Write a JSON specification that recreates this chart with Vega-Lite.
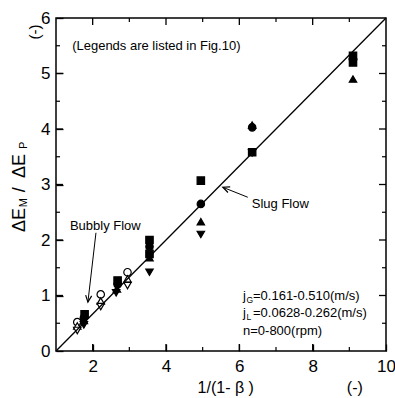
{
  "$schema": "https://vega.github.io/schema/vega-lite/v6.json",
  "width": 330,
  "height": 333,
  "autosize": {"type": "none"},
  "padding": {"left": 56, "top": 18, "right": 9, "bottom": 47},
  "config": {
    "view": {"stroke": "black", "strokeWidth": 1.5},
    "axis": {"domain": false, "grid": false, "tickColor": "black", "labelColor": "black", "labelFont": "Liberation Sans", "labelFontSize": 17, "title": null, "tickWidth": 1.3, "labelFlush": false, "labelOverlap": false}
  },
  "datasets": {
    "pts": [
      {"x": 1.58, "y": 0.52, "s": "s5"}, {"x": 2.22, "y": 1.02, "s": "s5"}, {"x": 2.95, "y": 1.42, "s": "s5"},
      {"x": 1.58, "y": 0.45, "s": "s6"}, {"x": 2.22, "y": 0.9, "s": "s6"}, {"x": 2.95, "y": 1.3, "s": "s6"},
      {"x": 1.58, "y": 0.37, "s": "s7"}, {"x": 2.22, "y": 0.8, "s": "s7"}, {"x": 2.95, "y": 1.18, "s": "s7"},
      {"x": 1.78, "y": 0.66, "s": "s1"}, {"x": 2.68, "y": 1.27, "s": "s1"}, {"x": 3.55, "y": 2.0, "s": "s1"}, {"x": 3.55, "y": 1.75, "s": "s1"}, {"x": 4.95, "y": 3.07, "s": "s1"}, {"x": 6.35, "y": 3.58, "s": "s1"}, {"x": 9.1, "y": 5.32, "s": "s1"}, {"x": 9.1, "y": 5.2, "s": "s1"},
      {"x": 1.76, "y": 0.6, "s": "s2"}, {"x": 2.68, "y": 1.2, "s": "s2"}, {"x": 3.55, "y": 1.88, "s": "s2"}, {"x": 4.95, "y": 2.65, "s": "s2"}, {"x": 6.35, "y": 4.03, "s": "s2"}, {"x": 9.1, "y": 5.25, "s": "s2"},
      {"x": 1.76, "y": 0.55, "s": "s3"}, {"x": 2.66, "y": 1.12, "s": "s3"}, {"x": 3.55, "y": 1.68, "s": "s3"}, {"x": 4.95, "y": 2.33, "s": "s3"}, {"x": 6.35, "y": 4.07, "s": "s3"}, {"x": 9.1, "y": 4.9, "s": "s3"},
      {"x": 1.76, "y": 0.47, "s": "s4"}, {"x": 2.64, "y": 1.05, "s": "s4"}, {"x": 3.55, "y": 1.42, "s": "s4"}, {"x": 4.95, "y": 2.1, "s": "s4"}, {"x": 6.35, "y": 3.57, "s": "s4"}
    ],
    "fitline": [{"x": 1, "y": 0}, {"x": 10, "y": 6}],
    "shafts": [
      {"x": 6.23, "y": 2.77, "x2": 5.55, "y2": 2.95},
      {"x": 2.09, "y": 2.13, "x2": 1.87, "y2": 0.88}
    ],
    "xmaj": [{"v": 2}, {"v": 4}, {"v": 6}, {"v": 8}],
    "xmin": [{"v": 3}, {"v": 5}, {"v": 7}, {"v": 9}],
    "ymaj": [{"v": 1}, {"v": 2}, {"v": 3}, {"v": 4}, {"v": 5}],
    "ymin": [{"v": 0.5}, {"v": 1.5}, {"v": 2.5}, {"v": 3.5}, {"v": 4.5}, {"v": 5.5}],
    "notes": [
      {"x": 1.44, "y": 5.5, "t": "(Legends are listed in Fig.10)"},
      {"x": 1.38, "y": 2.25, "t": "Bubbly Flow"},
      {"x": 6.34, "y": 2.65, "t": "Slug Flow"},
      {"x": 6.1, "y": 1.0, "t": "j"},
      {"x": 6.1, "y": 0.69, "t": "j"},
      {"x": 6.1, "y": 0.36, "t": "n=0-800(rpm)"}
    ],
    "subs": [
      {"x": 6.1, "y": 1.0, "t": "G"},
      {"x": 6.1, "y": 0.69, "t": "L"}
    ],
    "rest": [
      {"x": 6.1, "y": 1.0, "t": "=0.161-0.510(m/s)"},
      {"x": 6.1, "y": 0.69, "t": "=0.0628-0.262(m/s)"}
    ],
    "xtitle": [
      {"x": 5.63, "y": -0.66, "t": "1/(1- β )"},
      {"x": 9.15, "y": -0.66, "t": "(-)"}
    ],
    "ytitle": [
      {"x": 0.155, "y": 2.144, "t": "ΔE"},
      {"x": 0.155, "y": 2.86, "t": "/"},
      {"x": 0.155, "y": 3.117, "t": "ΔE"}
    ],
    "ysubs": [
      {"x": 0.155, "y": 2.59, "t": "M"},
      {"x": 0.155, "y": 3.64, "t": "P"}
    ],
    "yunit": [{"x": 0.43, "y": 5.75, "t": "(-)"}]
  },
  "layer": [
    {
      "data": {"name": "pts"},
      "mark": {"type": "point", "size": 55, "strokeWidth": 1.2, "opacity": 1, "stroke": "black"},
      "encoding": {
        "x": {"field": "x", "type": "quantitative", "scale": {"domain": [1, 10], "nice": false, "zero": false},
          "axis": {"orient": "bottom", "values": [2, 4, 6, 8, 10], "format": "d", "ticks": true, "offset": -7, "tickSize": 7, "labelPadding": 7}},
        "y": {"field": "y", "type": "quantitative", "scale": {"domain": [0, 6], "nice": false, "zero": false},
          "axis": {"orient": "left", "values": [0, 1, 2, 3, 4, 5, 6], "format": "d", "ticks": true, "offset": -7, "tickSize": 7, "labelPadding": 6}},
        "shape": {"field": "s", "type": "nominal", "legend": null, "scale": {"domain": ["s1", "s2", "s3", "s4", "s5", "s6", "s7"], "range": ["square", "circle", "triangle-up", "triangle-down", "circle", "triangle-up", "triangle-down"]}},
        "fill": {"field": "s", "type": "nominal", "legend": null, "scale": {"domain": ["s1", "s2", "s3", "s4", "s5", "s6", "s7"], "range": ["black", "black", "black", "black", "white", "white", "white"]}}
      }
    },
    {
      "data": {"name": "fitline"},
      "mark": {"type": "line", "color": "black", "strokeWidth": 1.3},
      "encoding": {
        "x": {"field": "x", "type": "quantitative", "axis": null},
        "y": {"field": "y", "type": "quantitative", "axis": null}
      }
    },
    {
      "data": {"name": "xmaj"},
      "mark": {"type": "tick", "orient": "vertical", "size": 7, "thickness": 1.3, "color": "black", "opacity": 1, "yOffset": -3.5},
      "encoding": {"x": {"field": "v", "type": "quantitative", "axis": null}, "y": {"datum": 0, "type": "quantitative", "axis": null}}
    },
    {
      "data": {"name": "xmaj"},
      "mark": {"type": "tick", "orient": "vertical", "size": 7, "thickness": 1.3, "color": "black", "opacity": 1, "yOffset": 3.5},
      "encoding": {"x": {"field": "v", "type": "quantitative", "axis": null}, "y": {"datum": 6, "type": "quantitative", "axis": null}}
    },
    {
      "data": {"name": "xmin"},
      "mark": {"type": "tick", "orient": "vertical", "size": 4, "thickness": 1.2, "color": "black", "opacity": 1, "yOffset": -2},
      "encoding": {"x": {"field": "v", "type": "quantitative", "axis": null}, "y": {"datum": 0, "type": "quantitative", "axis": null}}
    },
    {
      "data": {"name": "xmin"},
      "mark": {"type": "tick", "orient": "vertical", "size": 4, "thickness": 1.2, "color": "black", "opacity": 1, "yOffset": 2},
      "encoding": {"x": {"field": "v", "type": "quantitative", "axis": null}, "y": {"datum": 6, "type": "quantitative", "axis": null}}
    },
    {
      "data": {"name": "ymaj"},
      "mark": {"type": "tick", "orient": "horizontal", "size": 7, "thickness": 1.3, "color": "black", "opacity": 1, "xOffset": 3.5},
      "encoding": {"y": {"field": "v", "type": "quantitative", "axis": null}, "x": {"datum": 1, "type": "quantitative", "axis": null}}
    },
    {
      "data": {"name": "ymaj"},
      "mark": {"type": "tick", "orient": "horizontal", "size": 7, "thickness": 1.3, "color": "black", "opacity": 1, "xOffset": -3.5},
      "encoding": {"y": {"field": "v", "type": "quantitative", "axis": null}, "x": {"datum": 10, "type": "quantitative", "axis": null}}
    },
    {
      "data": {"name": "ymin"},
      "mark": {"type": "tick", "orient": "horizontal", "size": 4, "thickness": 1.2, "color": "black", "opacity": 1, "xOffset": 2},
      "encoding": {"y": {"field": "v", "type": "quantitative", "axis": null}, "x": {"datum": 1, "type": "quantitative", "axis": null}}
    },
    {
      "data": {"name": "ymin"},
      "mark": {"type": "tick", "orient": "horizontal", "size": 4, "thickness": 1.2, "color": "black", "opacity": 1, "xOffset": -2},
      "encoding": {"y": {"field": "v", "type": "quantitative", "axis": null}, "x": {"datum": 10, "type": "quantitative", "axis": null}}
    },
    {
      "data": {"name": "shafts"},
      "mark": {"type": "rule", "color": "black", "strokeWidth": 1},
      "encoding": {
        "x": {"field": "x", "type": "quantitative", "axis": null},
        "y": {"field": "y", "type": "quantitative", "axis": null},
        "x2": {"field": "x2"},
        "y2": {"field": "y2"}
      }
    },
    {
      "data": {"values": [{"x": 5.55, "y": 2.95}]},
      "mark": {"type": "point", "shape": "M -0.45 1 L 0 0 L 0.45 1", "filled": false, "stroke": "black", "strokeWidth": 1.2, "size": 180, "angle": 291.5, "opacity": 1},
      "encoding": {
        "x": {"field": "x", "type": "quantitative", "axis": null},
        "y": {"field": "y", "type": "quantitative", "axis": null}
      }
    },
    {
      "data": {"values": [{"x": 1.87, "y": 0.88}]},
      "mark": {"type": "point", "shape": "M -0.45 1 L 0 0 L 0.45 1", "filled": false, "stroke": "black", "strokeWidth": 1.2, "size": 180, "angle": 186.5, "opacity": 1},
      "encoding": {
        "x": {"field": "x", "type": "quantitative", "axis": null},
        "y": {"field": "y", "type": "quantitative", "axis": null}
      }
    },
    {
      "data": {"name": "notes"},
      "mark": {"type": "text", "font": "Liberation Sans", "fontSize": 13, "align": "left", "baseline": "middle", "color": "black"},
      "encoding": {
        "x": {"field": "x", "type": "quantitative", "axis": null},
        "y": {"field": "y", "type": "quantitative", "axis": null},
        "text": {"field": "t"}
      }
    },
    {
      "data": {"name": "subs"},
      "mark": {"type": "text", "font": "Liberation Sans", "fontSize": 8.5, "align": "left", "baseline": "middle", "dx": 3.5, "dy": 4, "color": "black"},
      "encoding": {
        "x": {"field": "x", "type": "quantitative", "axis": null},
        "y": {"field": "y", "type": "quantitative", "axis": null},
        "text": {"field": "t"}
      }
    },
    {
      "data": {"name": "rest"},
      "mark": {"type": "text", "font": "Liberation Sans", "fontSize": 13, "align": "left", "baseline": "middle", "dx": 10, "color": "black"},
      "encoding": {
        "x": {"field": "x", "type": "quantitative", "axis": null},
        "y": {"field": "y", "type": "quantitative", "axis": null},
        "text": {"field": "t"}
      }
    },
    {
      "data": {"name": "xtitle"},
      "mark": {"type": "text", "font": "Liberation Sans", "fontSize": 16, "align": "center", "baseline": "middle", "color": "black"},
      "encoding": {
        "x": {"field": "x", "type": "quantitative", "axis": null},
        "y": {"field": "y", "type": "quantitative", "axis": null},
        "text": {"field": "t"}
      }
    },
    {
      "data": {"name": "ytitle"},
      "mark": {"type": "text", "font": "Liberation Sans", "fontSize": 18, "align": "left", "baseline": "alphabetic", "angle": 270, "color": "black"},
      "encoding": {
        "x": {"field": "x", "type": "quantitative", "axis": null},
        "y": {"field": "y", "type": "quantitative", "axis": null},
        "text": {"field": "t"}
      }
    },
    {
      "data": {"name": "ysubs"},
      "mark": {"type": "text", "font": "Liberation Sans", "fontSize": 11, "align": "left", "baseline": "alphabetic", "angle": 270, "dy": 2, "color": "black"},
      "encoding": {
        "x": {"field": "x", "type": "quantitative", "axis": null},
        "y": {"field": "y", "type": "quantitative", "axis": null},
        "text": {"field": "t"}
      }
    },
    {
      "data": {"name": "yunit"},
      "mark": {"type": "text", "font": "Liberation Sans", "fontSize": 15, "align": "center", "baseline": "middle", "angle": 270, "color": "black"},
      "encoding": {
        "x": {"field": "x", "type": "quantitative", "axis": null},
        "y": {"field": "y", "type": "quantitative", "axis": null},
        "text": {"field": "t"}
      }
    }
  ],
  "resolve": {"axis": {"x": "independent", "y": "independent"}}
}
